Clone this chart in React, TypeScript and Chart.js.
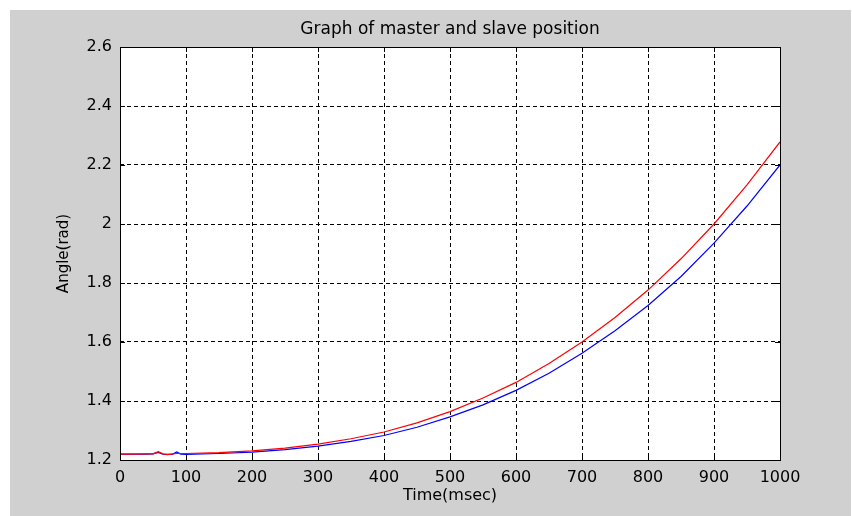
import React, { useEffect, useRef } from "react";
import { Chart, registerables } from "chart.js";

Chart.register(...registerables);

// Sample times (msec)
const timeMs = [
  0, 20, 40, 50, 58, 65, 72, 80, 86, 92, 100, 150, 200, 250, 300, 350, 400,
  450, 500, 550, 600, 650, 700, 750, 800, 850, 900, 950, 1000,
];

// Master position (rad)
const masterAngle = [
  1.22, 1.22, 1.221, 1.221, 1.228, 1.221, 1.218, 1.221, 1.222, 1.222, 1.222,
  1.225, 1.231, 1.24, 1.254, 1.272, 1.295, 1.326, 1.364, 1.41, 1.463, 1.527,
  1.6, 1.683, 1.776, 1.882, 2.0, 2.133, 2.278,
];

// Slave position (rad)
const slaveAngle = [
  1.22, 1.22, 1.22, 1.221, 1.226, 1.22, 1.219, 1.22, 1.227, 1.22, 1.219,
  1.222, 1.227, 1.235, 1.247, 1.263, 1.283, 1.311, 1.346, 1.387, 1.436, 1.494,
  1.562, 1.638, 1.724, 1.822, 1.935, 2.061, 2.2,
];

const xTicks = [0, 100, 200, 300, 400, 500, 600, 700, 800, 900, 1000];
const yTicks = [1.2, 1.4, 1.6, 1.8, 2, 2.2, 2.4, 2.6];

const chartTitle = "Graph of master and slave position";

const FONT = "'DejaVu Sans', sans-serif";

// Figure background, axes box, inward tick marks and the title centred over the axes
const figurePlugin = {
  id: "figureFrame",
  beforeDraw(chart: any) {
    const { ctx, width, height, chartArea } = chart;
    ctx.save();
    ctx.fillStyle = "#ffffff";
    ctx.fillRect(0, 0, width, height);
    ctx.fillStyle = "#d0d0d0";
    ctx.fillRect(10, 10, width - 11, height - 10);
    ctx.fillStyle = "#ffffff";
    ctx.fillRect(
      chartArea.left,
      chartArea.top,
      chartArea.right - chartArea.left,
      chartArea.bottom - chartArea.top
    );
    ctx.restore();
  },
  afterDraw(chart: any) {
    const { ctx, chartArea, scales } = chart;
    const { left, right, top, bottom } = chartArea;
    const len = 5;
    ctx.save();
    ctx.strokeStyle = "#000000";
    ctx.lineWidth = 1;
    ctx.beginPath();
    for (const v of xTicks) {
      const x = Math.round(scales.x.getPixelForValue(v)) + 0.5;
      ctx.moveTo(x, top);
      ctx.lineTo(x, top + len);
      ctx.moveTo(x, bottom);
      ctx.lineTo(x, bottom - len);
    }
    for (const v of yTicks) {
      const y = Math.round(scales.y.getPixelForValue(v)) + 0.5;
      ctx.moveTo(left, y);
      ctx.lineTo(left + len, y);
      ctx.moveTo(right, y);
      ctx.lineTo(right - len, y);
    }
    ctx.stroke();
    ctx.strokeRect(
      Math.round(left) + 0.5,
      Math.round(top) + 0.5,
      Math.round(right - left),
      Math.round(bottom - top)
    );

    ctx.fillStyle = "#000000";
    ctx.font = `17px ${FONT}`;
    ctx.textAlign = "center";
    ctx.textBaseline = "middle";
    ctx.fillText(chartTitle, (left + right) / 2, 30);
    ctx.restore();
  },
};

export default function App() {
  const canvasRef = useRef<HTMLCanvasElement | null>(null);

  useEffect(() => {
    const canvas = canvasRef.current;
    if (!canvas) return;
    const chart = new Chart(canvas, {
      type: "line",
      data: {
        datasets: [
          {
            label: "master",
            data: timeMs.map((t, i) => ({ x: t, y: masterAngle[i] })),
            borderColor: "#ff0000",
            borderWidth: 1.2,
            pointRadius: 0,
            tension: 0,
            fill: false,
          },
          {
            label: "slave",
            data: timeMs.map((t, i) => ({ x: t, y: slaveAngle[i] })),
            borderColor: "#0000ff",
            borderWidth: 1.2,
            pointRadius: 0,
            tension: 0,
            fill: false,
          },
        ],
      },
      options: {
        responsive: false,
        animation: false,
        events: [],
        layout: { padding: { left: 0, right: 72, top: 47, bottom: 0 } },
        plugins: {
          legend: { display: false },
          tooltip: { enabled: false },
          title: { display: false },
        },
        scales: {
          x: {
            type: "linear",
            min: 0,
            max: 1000,
            afterBuildTicks: (scale: any) => {
              scale.ticks = xTicks.map((v) => ({ value: v }));
            },
            afterFit: (scale: any) => {
              scale.height = 56;
            },
            ticks: {
              color: "#000000",
              padding: 8,
              font: { family: FONT, size: 16 },
              callback: (v: any) => String(v),
            },
            grid: {
              color: "#000000",
              lineWidth: 1,
              drawTicks: false,
            },
            border: { display: false, dash: [4, 3] },
            title: {
              display: true,
              text: "Time(msec)",
              color: "#000000",
              font: { family: FONT, size: 16, lineHeight: 1.2 },
              padding: { top: 0, bottom: 11 },
            },
          },
          y: {
            type: "linear",
            min: 1.2,
            max: 2.6,
            afterBuildTicks: (scale: any) => {
              scale.ticks = yTicks.map((v) => ({ value: v }));
            },
            afterFit: (scale: any) => {
              scale.width = 120;
            },
            ticks: {
              color: "#000000",
              padding: 8,
              font: { family: FONT, size: 16 },
              callback: (v: any) => String(Number(Number(v).toFixed(2))),
            },
            grid: {
              color: "#000000",
              lineWidth: 1,
              drawTicks: false,
            },
            border: { display: false, dash: [4, 3] },
            title: {
              display: true,
              text: "Angle(rad)",
              color: "#000000",
              font: { family: FONT, size: 15, lineHeight: 1.2 },
              padding: { top: 55, bottom: 0 },
            },
          },
        },
      },
      plugins: [figurePlugin],
    });
    return () => chart.destroy();
  }, []);

  return (
    <div style={{ position: "absolute", left: 0, top: 0, width: 852, height: 516 }}>
      <canvas
        ref={canvasRef}
        width={852}
        height={516}
        style={{ display: "block", width: 852, height: 516 }}
      />
    </div>
  );
}
